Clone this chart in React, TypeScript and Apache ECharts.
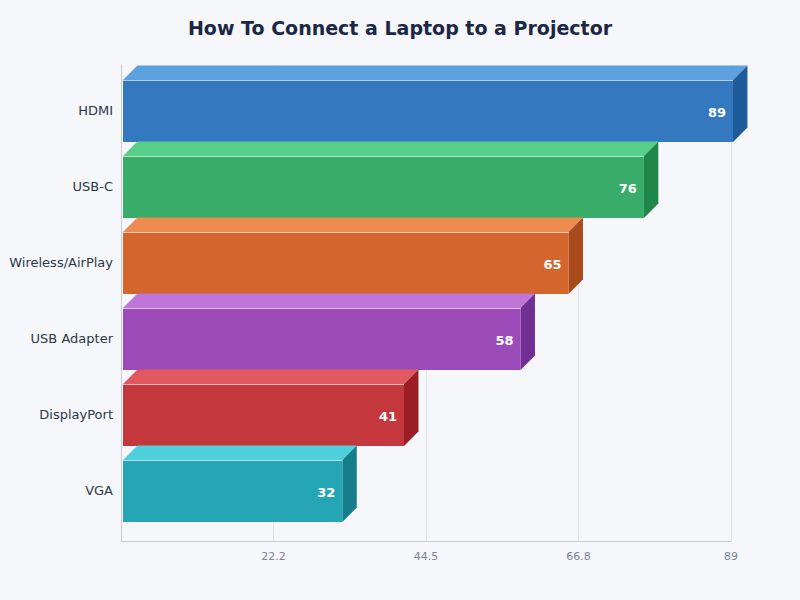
import React, { useEffect, useRef } from "react";
import * as echarts from "echarts";

const categories = ["HDMI", "USB-C", "Wireless/AirPlay", "USB Adapter", "DisplayPort", "VGA"];
const values = [89, 76, 65, 58, 41, 32];
const frontColors = ["#3478C0", "#38AC69", "#D3652D", "#9A4BB8", "#C4373D", "#26A5B5"];
const topColors = ["#5CA0E0", "#58CF88", "#EE8B50", "#C075D9", "#E0595E", "#4FCFDB"];
const sideColors = ["#1F5A9A", "#1F8747", "#A94A1C", "#722E93", "#9A1E24", "#167E8A"];
const tickLabels = ["", "22.2", "44.5", "66.8", "89"];

export default function App() {
  const ref = useRef<HTMLDivElement>(null);
  useEffect(() => {
    document.body.style.margin = "0";
    document.body.style.background = "#F5F7FA";
    if (!ref.current) return;
    const chart = echarts.init(ref.current, undefined, { renderer: "svg" });
    const data = categories.map((c, i) => [values[i], i]);
    chart.setOption({
      animation: false,
      backgroundColor: "#F5F7FA",
      title: {
        text: "How To Connect a Laptop to a Projector",
        left: "center",
        top: 13,
        textStyle: { fontFamily: "DejaVu Sans", fontSize: 19, fontWeight: "bold", color: "#1B2745" },
      },
      grid: [
        { left: 121, right: 69, top: 72, bottom: 72 },
        { left: 121, right: 69, top: 65, bottom: 59 },
      ],
      xAxis: [
        { type: "value", gridIndex: 0, min: 0, max: 89, show: false },
        {
          type: "value",
          gridIndex: 1,
          min: 0,
          max: 89,
          interval: 22.25,
          axisLine: { show: true, lineStyle: { color: "#C8CCD4" } },
          axisTick: { show: false },
          splitLine: { show: true, lineStyle: { color: "#E0E3E8" } },
          axisLabel: {
            color: "#7B8494",
            fontSize: 11,
            fontFamily: "DejaVu Sans",
            margin: 10,
            formatter: (_v: number, idx: number) => tickLabels[idx] ?? "",
          },
        },
      ],
      yAxis: [
        {
          type: "category",
          gridIndex: 0,
          data: categories,
          inverse: true,
          axisLine: { show: false },
          axisTick: { show: false },
          axisLabel: { color: "#2D3748", fontSize: 13, fontFamily: "DejaVu Sans", margin: 8 },
        },
        {
          type: "value",
          gridIndex: 1,
          axisLine: { show: true, lineStyle: { color: "#C8CCD4" } },
          axisTick: { show: false },
          axisLabel: { show: false },
          splitLine: { show: false },
        },
      ],
      series: [
        {
          type: "custom",
          xAxisIndex: 0,
          yAxisIndex: 0,
          data,
          renderItem: (params: any, api: any) => {
            const idx = api.value(1);
            const v = api.value(0);
            const start = api.coord([0, idx]);
            const end = api.coord([v, idx]);
            const band = api.size([0, 1])[1];
            const frontH = band * 0.815;
            const d = band * 0.19;
            const cy = start[1] + 1;
            const x0 = start[0] + 2;
            const x1 = end[0] + 2;
            const fy0 = cy - frontH / 2;
            const fy1 = cy + frontH / 2;
            const i = params.dataIndex;
            return {
              type: "group",
              children: [
                {
                  type: "polygon",
                  shape: { points: [[x0, fy0], [x0 + d, fy0 - d], [x1 + d, fy0 - d], [x1, fy0]] },
                  style: { fill: topColors[i] },
                },
                {
                  type: "polygon",
                  shape: { points: [[x1, fy0], [x1 + d, fy0 - d], [x1 + d, fy1 - d], [x1, fy1]] },
                  style: { fill: sideColors[i] },
                },
                {
                  type: "rect",
                  shape: { x: x0, y: fy0, width: x1 - x0, height: fy1 - fy0 },
                  style: { fill: frontColors[i] },
                },
                {
                  type: "line",
                  shape: { x1: x0, y1: fy0 + 0.5, x2: x1, y2: fy0 + 0.5 },
                  style: { stroke: "rgba(255,255,255,0.65)", lineWidth: 1 },
                },
                {
                  type: "text",
                  style: {
                    text: String(values[i]),
                    x: x1 - 7,
                    y: cy + 1.5,
                    align: "right",
                    verticalAlign: "middle",
                    fill: "#FFFFFF",
                    font: "bold 13px 'DejaVu Sans'",
                  },
                },
              ],
            };
          },
        },
      ],
    });
    return () => chart.dispose();
  }, []);
  return <div ref={ref} style={{ width: 800, height: 600 }} />;
}
